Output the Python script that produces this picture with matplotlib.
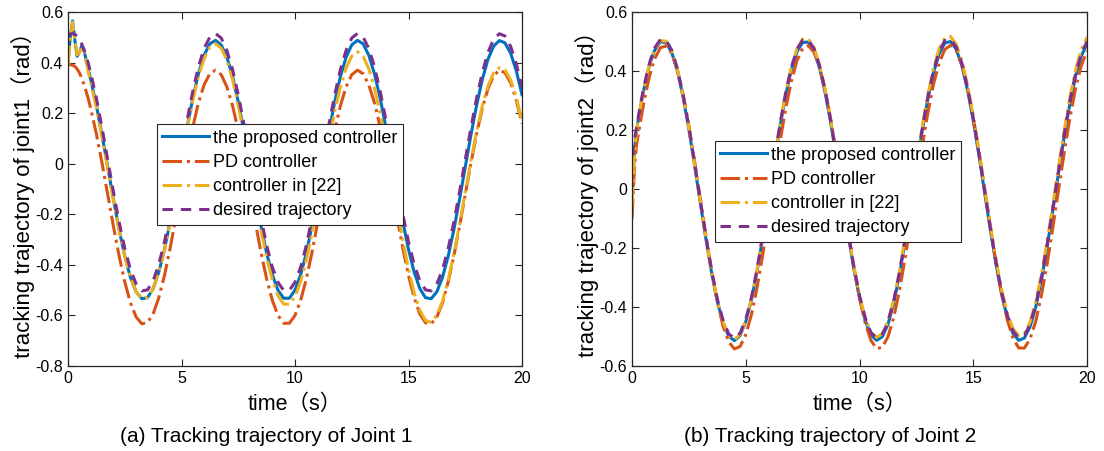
import numpy as np
import matplotlib
matplotlib.use("Agg")
import matplotlib.pyplot as plt

plt.rcParams['font.family'] = ['Liberation Sans', 'Noto Sans CJK SC']
plt.rcParams['axes.unicode_minus'] = False

# time grid (s): finer at the start for the transient
t = np.concatenate([np.arange(0, 1, 0.1), np.arange(1, 20.01, 0.25)])

labels = ["the proposed controller", "PD controller", "controller in [22]", "desired trajectory"]

# joint 1 (rad)
j1_proposed = [0.40, 0.50, 0.565, 0.49, 0.425, 0.44, 0.465, 0.45, 0.41, 0.37,
               0.333, 0.231, 0.113, -0.013, -0.140, -0.260, -0.365, -0.449, -0.506, -0.534, -0.530, -0.494, -0.429, -0.339, -0.229, -0.106,
               0.021, 0.145, 0.260, 0.358, 0.430, 0.474, 0.488, 0.470, 0.421, 0.345, 0.245, 0.129, 0.004, -0.124, -0.245, -0.353, -0.439, -0.500, -0.532, -0.532,
               -0.500, -0.439, -0.353, -0.245, -0.124, 0.004, 0.130, 0.245, 0.345, 0.421, 0.470, 0.488, 0.474, 0.429, 0.356, 0.260, 0.145, 0.021, -0.107, -0.229,
               -0.339, -0.429, -0.494, -0.530, -0.534, -0.506, -0.449, -0.365, -0.260, -0.140, -0.013, 0.113, 0.231, 0.333, 0.413, 0.465, 0.487, 0.478, 0.437, 0.367, 0.273]
j1_pd = [0.39, 0.392, 0.39, 0.385, 0.375, 0.36, 0.34, 0.315, 0.285, 0.255,
         0.218, 0.118, 0.002, -0.122, -0.247, -0.364, -0.467, -0.550, -0.606, -0.633, -0.629, -0.594, -0.530, -0.442, -0.334, -0.213,
         -0.089, 0.034, 0.146, 0.242, 0.313, 0.356, 0.370, 0.352, 0.304, 0.229, 0.132, 0.018, -0.105, -0.230, -0.350, -0.455, -0.540, -0.600, -0.631, -0.631,
         -0.600, -0.540, -0.455, -0.350, -0.230, -0.105, 0.018, 0.132, 0.229, 0.304, 0.352, 0.370, 0.356, 0.312, 0.241, 0.146, 0.034, -0.089, -0.214, -0.334,
         -0.442, -0.530, -0.594, -0.629, -0.633, -0.606, -0.550, -0.467, -0.364, -0.247, -0.122, 0.002, 0.118, 0.218, 0.296, 0.348, 0.370, 0.360, 0.320, 0.251, 0.159]
j1_ref22 = [0.39, 0.49, 0.56, 0.49, 0.43, 0.44, 0.46, 0.445, 0.405, 0.36,
            0.322, 0.221, 0.105, -0.019, -0.145, -0.263, -0.366, -0.449, -0.506, -0.533, -0.529, -0.494, -0.429, -0.341, -0.233, -0.111,
            0.014, 0.137, 0.250, 0.347, 0.417, 0.461, 0.475, 0.457, 0.409, 0.332, 0.231, 0.114, -0.013, -0.140, -0.262, -0.371, -0.459, -0.522, -0.555, -0.556,
            -0.526, -0.466, -0.381, -0.275, -0.156, -0.031, 0.093, 0.207, 0.304, 0.378, 0.426, 0.443, 0.425, 0.376, 0.299, 0.199, 0.081, -0.047, -0.178, -0.303,
            -0.417, -0.510, -0.580, -0.620, -0.627, -0.600, -0.543, -0.460, -0.357, -0.239, -0.113, 0.011, 0.127, 0.228, 0.307, 0.359, 0.380, 0.371, 0.331, 0.262, 0.169]
j1_desired = [0.505, 0.512, 0.515, 0.512, 0.505, 0.492, 0.475, 0.453, 0.426, 0.395,
              0.360, 0.259, 0.141, 0.016, -0.111, -0.230, -0.335, -0.418, -0.475, -0.503, -0.499, -0.463, -0.398, -0.309, -0.200, -0.077,
              0.049, 0.174, 0.288, 0.385, 0.457, 0.501, 0.515, 0.497, 0.448, 0.372, 0.273, 0.157, 0.033, -0.094, -0.215, -0.322, -0.409, -0.469, -0.501, -0.501,
              -0.469, -0.409, -0.322, -0.215, -0.094, 0.033, 0.158, 0.273, 0.372, 0.448, 0.497, 0.515, 0.501, 0.456, 0.384, 0.288, 0.174, 0.049, -0.078, -0.200,
              -0.309, -0.398, -0.463, -0.499, -0.503, -0.475, -0.418, -0.335, -0.230, -0.111, 0.016, 0.142, 0.259, 0.360, 0.440, 0.493, 0.514, 0.505, 0.464, 0.395, 0.301]

# joint 2 (rad)
j2_proposed = [-0.02, 0.12, 0.20, 0.246, 0.289, 0.329, 0.365, 0.398, 0.427, 0.451,
               0.471, 0.499, 0.496, 0.462, 0.398, 0.310, 0.202, 0.081, -0.046, -0.170, -0.284, -0.381, -0.453, -0.499, -0.514, -0.497,
               -0.450, -0.376, -0.278, -0.163, -0.038, 0.088, 0.209, 0.316, 0.403, 0.465, 0.497, 0.498, 0.468, 0.409, 0.323, 0.217, 0.098, -0.029, -0.154, -0.270,
               -0.369, -0.445, -0.495, -0.513, -0.501, -0.459, -0.388, -0.294, -0.179, -0.055, 0.072, 0.194, 0.303, 0.393, 0.458, 0.495, 0.500, 0.474, 0.418, 0.335,
               0.232, 0.114, -0.012, -0.138, -0.255, -0.358, -0.437, -0.490, -0.513, -0.505, -0.466, -0.399, -0.307, -0.195, -0.072, 0.055, 0.178, 0.290, 0.383, 0.451, 0.492]
j2_pd = [-0.10, 0.06, 0.15, 0.196, 0.241, 0.284, 0.323, 0.359, 0.391, 0.419,
         0.442, 0.479, 0.485, 0.459, 0.403, 0.320, 0.215, 0.095, -0.032, -0.160, -0.279, -0.382, -0.464, -0.518, -0.542, -0.534,
         -0.494, -0.426, -0.333, -0.221, -0.096, 0.032, 0.157, 0.270, 0.364, 0.435, 0.476, 0.486, 0.464, 0.412, 0.332, 0.230, 0.112, -0.015, -0.143, -0.264,
         -0.369, -0.454, -0.513, -0.541, -0.537, -0.501, -0.436, -0.347, -0.237, -0.113, 0.015, 0.141, 0.256, 0.354, 0.427, 0.473, 0.487, 0.469, 0.421, 0.344,
         0.244, 0.128, 0.001, -0.126, -0.248, -0.357, -0.445, -0.506, -0.539, -0.539, -0.508, -0.447, -0.359, -0.252, -0.130, -0.002, 0.124, 0.242, 0.342, 0.419, 0.468]
j2_ref22 = [-0.06, 0.10, 0.20, 0.248, 0.291, 0.331, 0.368, 0.402, 0.430, 0.455,
            0.475, 0.503, 0.501, 0.467, 0.403, 0.315, 0.207, 0.085, -0.042, -0.167, -0.281, -0.377, -0.450, -0.496, -0.511, -0.493,
            -0.446, -0.371, -0.272, -0.157, -0.031, 0.096, 0.217, 0.325, 0.413, 0.475, 0.508, 0.509, 0.479, 0.419, 0.334, 0.228, 0.108, -0.019, -0.145, -0.260,
            -0.360, -0.436, -0.485, -0.503, -0.491, -0.448, -0.377, -0.282, -0.167, -0.042, 0.086, 0.208, 0.318, 0.409, 0.475, 0.512, 0.517, 0.491, 0.435, 0.353,
            0.249, 0.130, 0.005, -0.122, -0.239, -0.342, -0.422, -0.474, -0.497, -0.489, -0.450, -0.382, -0.289, -0.177, -0.052, 0.076, 0.199, 0.311, 0.405, 0.474, 0.515]
j2_desired = [0.113, 0.162, 0.209, 0.254, 0.297, 0.337, 0.373, 0.406, 0.435, 0.459,
              0.479, 0.507, 0.504, 0.470, 0.406, 0.318, 0.210, 0.089, -0.038, -0.162, -0.276, -0.373, -0.445, -0.491, -0.506, -0.489,
              -0.442, -0.368, -0.270, -0.155, -0.030, 0.096, 0.217, 0.324, 0.411, 0.473, 0.505, 0.506, 0.476, 0.417, 0.331, 0.225, 0.106, -0.021, -0.146, -0.262,
              -0.361, -0.437, -0.487, -0.505, -0.493, -0.451, -0.380, -0.286, -0.171, -0.047, 0.080, 0.202, 0.311, 0.401, 0.466, 0.503, 0.508, 0.482, 0.426, 0.343,
              0.240, 0.122, -0.004, -0.130, -0.247, -0.350, -0.429, -0.482, -0.505, -0.497, -0.458, -0.391, -0.299, -0.187, -0.064, 0.063, 0.186, 0.298, 0.391, 0.459, 0.500]

colors = ["#0072BD", "#D95319", "#EDB120", "#7E2F8E"]
styles = [dict(ls="-"), dict(ls="-."), dict(ls="-."), dict(ls="--", dashes=(3.4, 2.6))]

fig = plt.figure(figsize=(11.04, 4.51), dpi=100)
ax1 = fig.add_axes([68 / 1104, 85 / 451, 454 / 1104, 354 / 451])
ax2 = fig.add_axes([632 / 1104, 85 / 451, 455 / 1104, 354 / 451])

panels = [
    (ax1, [j1_proposed, j1_pd, j1_ref22, j1_desired], (-0.8, 0.6), "tracking trajectory of joint1（rad）",
     (0.196, 0.683), 266, "(a) Tracking trajectory of Joint 1"),
    (ax2, [j2_proposed, j2_pd, j2_ref22, j2_desired], (-0.6, 0.6), "tracking trajectory of joint2（rad）",
     (0.182, 0.635), 830, "(b) Tracking trajectory of Joint 2"),
]


def fmt(v, p):
    return "%g" % (round(v, 1) + 0.0)


for ax, series, ylim, ylabel, legpos, subx, subtitle in panels:
    for y, c, st, lab in zip(series, colors, styles, labels):
        ax.plot(t, y, color=c, lw=2.2, label=lab, **st)
    ax.set_xlim(0, 20)
    ax.set_ylim(*ylim)
    ax.set_xticks([0, 5, 10, 15, 20])
    ax.set_yticks(np.round(np.arange(ylim[0], ylim[1] + 0.01, 0.2), 1))
    ax.yaxis.set_major_formatter(matplotlib.ticker.FuncFormatter(fmt))
    ax.tick_params(direction="in", top=True, right=True, length=5, width=0.8,
                   labelsize=11.5, colors="#262626", labelcolor="black")
    for sp in ax.spines.values():
        sp.set_color("#262626")
        sp.set_linewidth(0.9)
    ax.set_ylabel(ylabel, fontsize=16, labelpad=0)
    ax.set_xlabel("time（s）", fontsize=15.5, labelpad=6)
    leg = ax.legend(loc="upper left", bbox_to_anchor=legpos, fontsize=13, handlelength=2.6,
                    handletextpad=0.2, labelspacing=0.4, borderpad=0.3, borderaxespad=0,
                    fancybox=False, framealpha=1)
    leg.get_frame().set_edgecolor("#262626")
    leg.get_frame().set_linewidth(0.8)
    fig.text(subx / 1104, 1 - 437 / 451, subtitle, ha="center", va="center", fontsize=15)

fig.savefig("out.png", dpi=100)
